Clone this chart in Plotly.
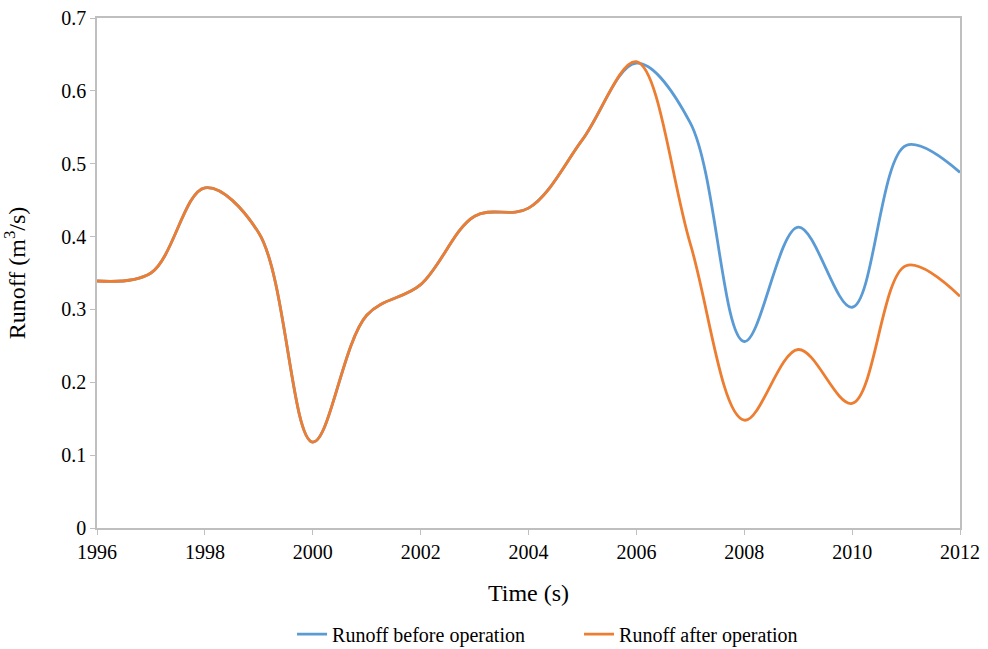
import plotly.graph_objects as go

years = list(range(1996, 2013))
runoff_before = [0.339, 0.350, 0.467, 0.405, 0.118, 0.292, 0.334, 0.428, 0.439, 0.533,
                 0.638, 0.556, 0.256, 0.413, 0.303, 0.525, 0.488]
runoff_after = [0.339, 0.350, 0.467, 0.405, 0.118, 0.292, 0.334, 0.428, 0.439, 0.533,
                0.640, 0.390, 0.148, 0.245, 0.171, 0.360, 0.318]

font_family = "Liberation Serif"
axis_grey = "#BFBFBF"

fig = go.Figure()
fig.add_trace(go.Scatter(
    x=years, y=runoff_before, mode="lines", name="Runoff before operation",
    line=dict(color="#5B9BD5", width=2.8, shape="spline", smoothing=1.0),
))
fig.add_trace(go.Scatter(
    x=years, y=runoff_after, mode="lines", name="Runoff after operation",
    line=dict(color="#ED7D31", width=2.8, shape="spline", smoothing=1.0),
))

fig.update_layout(
    template="none",
    width=988, height=649,
    margin=dict(l=97, r=28, t=18, b=121, autoexpand=False),
    paper_bgcolor="white", plot_bgcolor="white",
    font=dict(family=font_family, size=20, color="black"),
    showlegend=True,
    legend=dict(orientation="h", x=0.226, xanchor="left", y=-0.208, yanchor="middle",
                font=dict(family=font_family, size=20, color="black"),
                itemwidth=30, entrywidth=242, entrywidthmode="pixels"),
)
fig.update_xaxes(
    range=[1996, 2012], tick0=1996, dtick=2, showgrid=False, zeroline=False,
    showline=True, linecolor=axis_grey, linewidth=1.5, mirror=True,
    ticks="outside", ticklen=5, tickcolor=axis_grey, automargin=False,
    tickfont=dict(family=font_family, size=20, color="black"),
    title=dict(text="Time (s)", standoff=22),
)
fig.update_yaxes(
    range=[0, 0.7], tick0=0, dtick=0.1, showgrid=False, zeroline=False,
    showline=True, linecolor=axis_grey, linewidth=1.5, mirror=True,
    ticks="outside", ticklen=5, tickcolor=axis_grey, automargin=False,
    tickfont=dict(family=font_family, size=20, color="black"),
    title=dict(text="Runoff (m<sup>3</sup>/s)", standoff=30),
)

fig.write_html("out.html")
